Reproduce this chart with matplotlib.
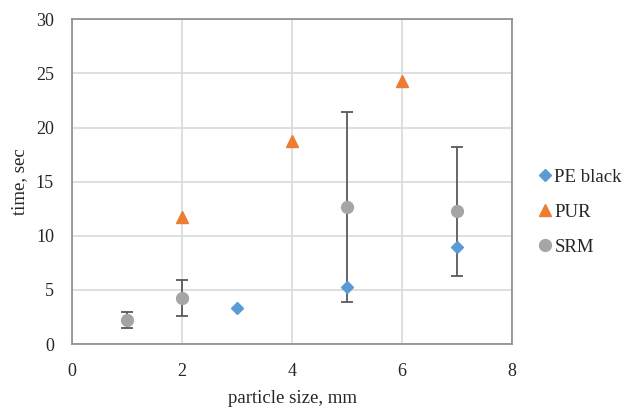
import matplotlib
matplotlib.use("Agg")
import matplotlib.pyplot as plt

pe_x = [3, 5, 7]
pe_y = [3.3, 5.24, 8.96]
pur_x = [2, 4, 6]
pur_y = [11.7, 18.8, 24.3]
srm_x = [1, 2, 5, 7]
srm_y = [2.22, 4.22, 12.66, 12.26]
srm_err = [0.72, 1.67, 8.82, 5.93]

x_ticks = [0, 2, 4, 6, 8]
y_ticks = [0, 5, 10, 15, 20, 25, 30]

plt.rcParams['font.family'] = ['Liberation Serif', 'DejaVu Serif']

fig = plt.figure(figsize=(6.34, 4.12), dpi=100)
ax = fig.add_axes([0.1136, 0.165, 0.694, 0.788])

ax.errorbar(srm_x, srm_y, yerr=srm_err, fmt='none', ecolor='#595959',
            elinewidth=1.3, capsize=4, capthick=1.3, zorder=2)
ax.plot(pe_x, pe_y, 'D', color='#5B9BD5', markersize=6.5, label='PE black', zorder=4)
ax.plot(pur_x, pur_y, '^', color='#ED7D31', markersize=8.5, label='PUR', zorder=4)
ax.plot(srm_x, srm_y, 'o', color='#A5A5A5', markersize=8.5, label='SRM', zorder=3)

ax.set_xlim(0, 8)
ax.set_ylim(0, 30)
ax.set_xticks(x_ticks)
ax.set_yticks(y_ticks)
ax.grid(True, color='#D9D9D9', linewidth=1.2)
ax.set_axisbelow(True)
for s in ax.spines.values():
    s.set_color('#8C8C8C')
    s.set_linewidth(1.2)
ax.tick_params(length=0, labelsize=13, colors='#404040')
ax.tick_params(axis='x', pad=14)
ax.tick_params(axis='y', pad=13)
for lbl in ax.get_xticklabels() + ax.get_yticklabels():
    lbl.set_color('#262626')

ax.set_xlabel('particle size, mm', fontsize=13.5, color='#262626')
ax.set_ylabel('time, sec', fontsize=13.5, color='#262626')
ax.xaxis.set_label_coords(0.5, -0.142)
ax.yaxis.set_label_coords(-0.1, 0.5)

leg = ax.legend(loc='center left', bbox_to_anchor=(0.83, 0.485), bbox_transform=fig.transFigure,
                frameon=False, fontsize=13.5, handletextpad=-0.1, labelspacing=0.95,
                handlelength=1.2, borderaxespad=0)
for t in leg.get_texts():
    t.set_color('#262626')

fig.savefig('out.png', dpi=100)
